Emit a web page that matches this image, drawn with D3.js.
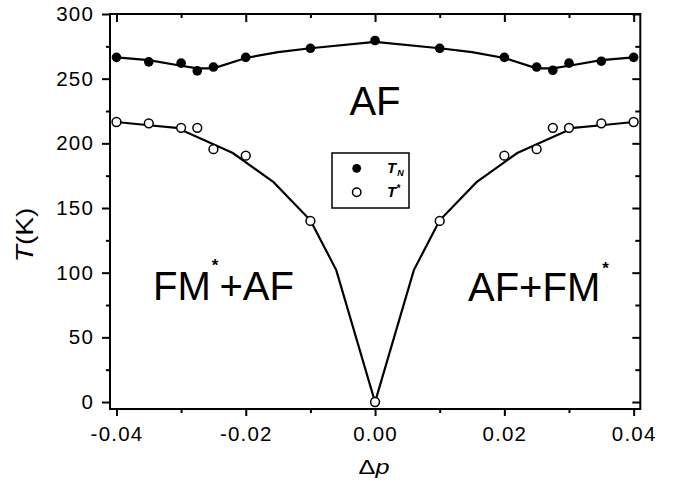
<!DOCTYPE html>
<html><head><meta charset="utf-8">
<script src="https://cdn.jsdelivr.net/npm/d3@7"></script>
<style>
html,body{margin:0;padding:0;background:#fff;}
svg{display:block;font-family:"Liberation Sans",Arial,sans-serif;}
</style></head>
<body>
<svg id="chart" width="678" height="485"></svg>
<script>
// ---- data ----
const dp = [-0.04,-0.035,-0.03,-0.0275,-0.025,-0.02,-0.01,0,0.01,0.02,0.025,0.0275,0.03,0.035,0.04];
const TN = [266.5,263,262,256,259,266.5,273.5,279.5,273.5,266.5,259,256.5,262,263.5,266.5];
const Tstar = [216.5,215.5,212,212,195.5,190.5,140,0,140,190.5,195.5,212,212,215.5,216.5];
const TNlineX = [-0.04,-0.035,-0.03,-0.0275,-0.025,-0.02,-0.015,-0.01,0,0.01,0.015,0.02,0.025,0.0275,0.03,0.035,0.04];
const TNlineY = [266.5,264.4,260,258,258,266,270.5,273.5,278.5,273.5,270.5,266,258,258,260,264.4,266.5];
const TsLineX = [-0.04,-0.035,-0.0307,-0.022,-0.0157,-0.01,-0.006,0,0.006,0.01,0.0157,0.022,0.0307,0.035,0.04];
const TsLineY = [216.5,214,212,192.5,170,140.5,102,0,102,140.5,170,192.5,212,214,216.5];
const xMajor = [-0.04,-0.02,0,0.02,0.04];
const xMinor = [-0.03,-0.01,0.01,0.03];
const yMajor = [0,50,100,150,200,250,300];
const yMinor = [25,75,125,175,225,275];

const svg = d3.select("#chart");
const L=110, R=640.3, T=14, B=409;
const x = d3.scaleLinear().domain([-0.041,0.04103]).range([L,R]);
const y = d3.scaleLinear().domain([-5.4,300]).range([B,T]);

function styleAxis(g){
  g.select(".domain").remove();
  g.selectAll(".tick line").attr("stroke","#000").attr("stroke-width",2);
  g.selectAll(".tick text").attr("fill","#000").attr("font-size",20.5)
   .attr("letter-spacing","1.2px").attr("font-family","Liberation Sans, Arial, sans-serif");
}
const fmtX = d => d.toFixed(2);
// bottom
svg.append("g").attr("transform",`translate(0,${B})`)
  .call(d3.axisBottom(x).tickValues(xMajor).tickSize(7).tickPadding(10).tickFormat(fmtX)).call(styleAxis);
svg.append("g").attr("transform",`translate(0,${B})`)
  .call(d3.axisBottom(x).tickValues(xMinor).tickSize(4).tickFormat("")).call(styleAxis);
// top
svg.append("g").attr("transform",`translate(0,${T})`)
  .call(d3.axisTop(x).tickValues(xMajor).tickSize(-8).tickFormat("")).call(styleAxis);
svg.append("g").attr("transform",`translate(0,${T})`)
  .call(d3.axisTop(x).tickValues(xMinor).tickSize(-4).tickFormat("")).call(styleAxis);
// left
svg.append("g").attr("transform",`translate(${L},0)`)
  .call(d3.axisLeft(y).tickValues(yMajor).tickSize(8).tickPadding(8).tickFormat(d3.format("d"))).call(styleAxis);
svg.append("g").attr("transform",`translate(${L},0)`)
  .call(d3.axisLeft(y).tickValues(yMinor).tickSize(4).tickFormat("")).call(styleAxis);
// right
svg.append("g").attr("transform",`translate(${R},0)`)
  .call(d3.axisRight(y).tickValues(yMajor).tickSize(-8).tickFormat("")).call(styleAxis);
svg.append("g").attr("transform",`translate(${R},0)`)
  .call(d3.axisRight(y).tickValues(yMinor).tickSize(-5).tickFormat("")).call(styleAxis);

// frame
svg.append("rect").attr("x",L).attr("y",T).attr("width",R-L).attr("height",B-T)
  .attr("fill","none").attr("stroke","#000").attr("stroke-width",2);

// lines
const line = d3.line().x(d=>x(d[0])).y(d=>y(d[1]));
svg.append("path").datum(TNlineX.map((v,i)=>[v,TNlineY[i]]))
  .attr("d",line).attr("fill","none").attr("stroke","#000").attr("stroke-width",2.2);
svg.append("path").datum(TsLineX.map((v,i)=>[v,TsLineY[i]]))
  .attr("d",line).attr("fill","none").attr("stroke","#000").attr("stroke-width",2.2);

// markers
svg.append("g").selectAll("circle").data(dp.map((v,i)=>[v,TN[i]])).join("circle")
  .attr("cx",d=>x(d[0])).attr("cy",d=>y(d[1])).attr("r",4.8).attr("fill","#000");
svg.append("g").selectAll("circle").data(dp.map((v,i)=>[v,Tstar[i]])).join("circle")
  .attr("cx",d=>x(d[0])).attr("cy",d=>y(d[1])).attr("r",4.4)
  .attr("fill","#fff").attr("stroke","#000").attr("stroke-width",1.5);

// region labels
svg.append("text").attr("x",375).attr("y",115).attr("text-anchor","middle")
  .attr("font-size",40).text("AF");
const t1 = svg.append("text").attr("x",153).attr("y",300).attr("font-size",40);
t1.append("tspan").text("FM");
t1.append("tspan").attr("font-size",17).attr("font-weight","bold").attr("dy",-29).attr("dx",1).text("*");
t1.append("tspan").attr("font-size",40).attr("dy",29).attr("dx",1).text("+AF");
const t2 = svg.append("text").attr("x",468).attr("y",301).attr("font-size",40);
t2.append("tspan").text("AF+FM");
t2.append("tspan").attr("font-size",17).attr("font-weight","bold").attr("dy",-27).attr("dx",2).text("*");

// legend
svg.append("rect").attr("x",332).attr("y",153).attr("width",77).attr("height",55)
  .attr("fill","#fff").attr("stroke","#000").attr("stroke-width",1.5);
svg.append("circle").attr("cx",356.7).attr("cy",168.3).attr("r",4.4).attr("fill","#000");
svg.append("circle").attr("cx",356.7).attr("cy",192.3).attr("r",4.2)
  .attr("fill","#fff").attr("stroke","#000").attr("stroke-width",1.5);
const l1 = svg.append("text").attr("x",387).attr("y",173).attr("font-size",15)
  .attr("font-weight","bold").attr("font-style","italic");
l1.append("tspan").text("T");
l1.append("tspan").attr("font-size",9).attr("dy",3).attr("dx",1).text("N");
const l2 = svg.append("text").attr("x",387).attr("y",197).attr("font-size",15)
  .attr("font-weight","bold").attr("font-style","italic");
l2.append("tspan").text("T");
l2.append("tspan").attr("font-size",10).attr("dy",-5).text("*");

// axis titles
const yl = svg.append("text").attr("transform","translate(33,235) rotate(-90) scale(1.22,1)")
  .attr("text-anchor","middle").attr("font-size",23);
yl.append("tspan").attr("font-style","italic").text("T");
yl.append("tspan").text("(K)");
const xl = svg.append("text").attr("transform","translate(374,474) scale(1.2,1)")
  .attr("text-anchor","middle").attr("font-size",21);
xl.append("tspan").text("Δ");
xl.append("tspan").attr("font-style","italic").text("p");
</script>
</body></html>
